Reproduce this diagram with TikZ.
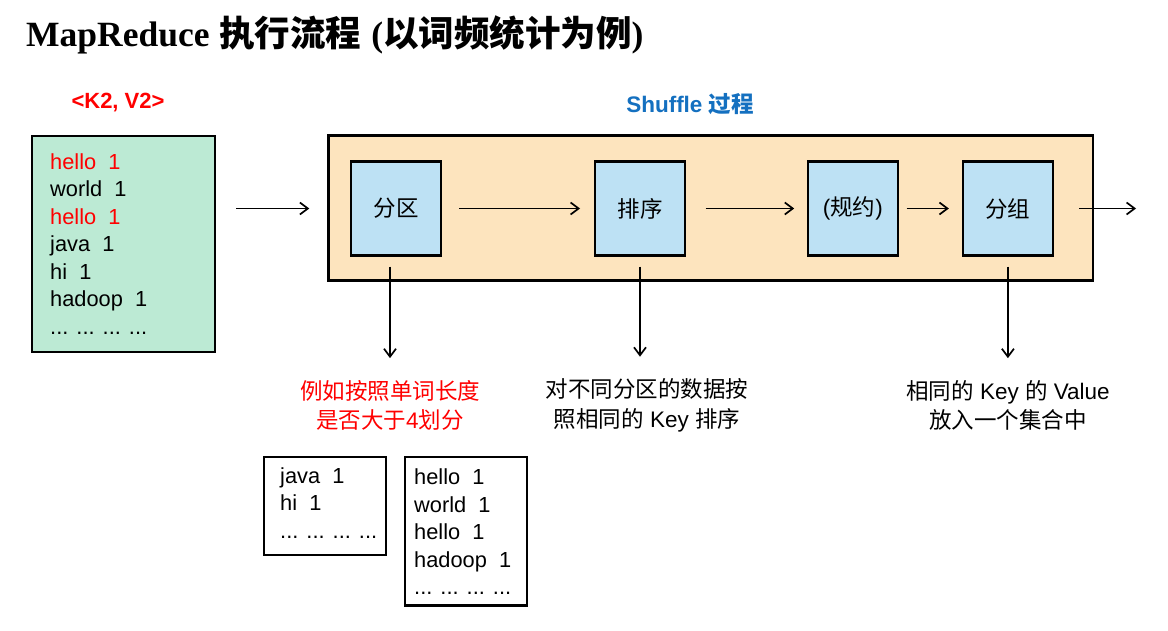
\documentclass[tikz,border=0pt]{standalone}
\usepackage{fontspec}
\setmainfont{Liberation Sans}
\newfontfamily\cjk{Noto Sans CJK SC}
\newfontfamily\tms{Liberation Serif}
\usetikzlibrary{arrows.meta}
\newcommand{\zh}[1]{{\cjk #1}}
\definecolor{mapgreen}{RGB}{188,234,212}
\definecolor{shuforange}{RGB}{253,228,190}
\definecolor{procblue}{RGB}{189,225,244}
\definecolor{shufblue}{RGB}{20,112,192}
\begin{document}
\begin{tikzpicture}[x=1pt,y=-1pt,
  frame/.style={draw=black, line width=2.4pt, inner sep=0pt, outer sep=0pt},
  procbox/.style={frame, fill=procblue, minimum width=90.2pt, minimum height=94.3pt, font=\fontsize{22.5}{27}\selectfont},
  listtext/.style={inner sep=0pt, anchor=north west, align=left, font=\fontsize{21.8}{27.5}\selectfont},
  note/.style={inner sep=0pt, align=center, font=\fontsize{22.5}{29.5}\selectfont},
  flow/.style={line width=1.7pt, -{Straight Barb[length=8pt,width=12pt]}}
]
\useasboundingbox (0,0) rectangle (1168,631);
\fill[white] (0,0) rectangle (1168,631);

% title
\node[anchor=base west, inner sep=0pt, font=\fontsize{35.5}{40}\selectfont\bfseries] (title) at (26,47)
  {{\tms MapReduce} \zh{执行流程} {\tms (}\zh{以词频统计为例}{\tms )}};

% map output
\node[font=\bfseries\fontsize{22}{26}\selectfont, text=red, inner sep=0pt] (kv) at (118,103) {<K2, V2>};
\node[frame, fill=mapgreen, minimum width=182.9pt, minimum height=215.6pt] (map) at (123.4,244) {};
\node[listtext] (maplist) at (50,153.3)
  {\textcolor{red}{hello~~1}\\world~~1\\\textcolor{red}{hello~~1}\\java~~1\\hi~~1\\hadoop~~1\\... ... ... ...};

% shuffle
\node[font=\bfseries\fontsize{22.5}{26}\selectfont, text=shufblue, inner sep=0pt] (shuflabel) at (690,104) {Shuffle \zh{过程}};
\node[frame, fill=shuforange, minimum width=764.3pt, minimum height=145pt] (shuffle) at (710.65,208) {};
\node[procbox] (p1) at (396,208.5) {\zh{分区}};
\node[procbox] (p2) at (640,208.5) {\zh{排序}};
\node[procbox] (p3) at (852.8,208.5) {(\zh{规约})};
\node[procbox] (p4) at (1007.9,208.5) {\zh{分组}};
\coordinate (out) at (1136,208.5);

% notes
\node[note, text=red] (lab1) at (390,405.5) {\zh{例如按照单词长度}\\\zh{是否大于}4\zh{划分}};
\node[note] (lab2) at (647,405.5) {\zh{对不同分区的数据按}\\\zh{照相同的} Key \zh{排序}};
\node[note] (lab3) at (1008,405.5) {\zh{相同的} Key \zh{的} Value\\\zh{放入一个集合中}};

% partitions
\node[frame, minimum width=121.9pt, minimum height=97.6pt] (part1) at (324.85,506) {};
\node[listtext] (part1list) at (280,467.5) {java~~1\\hi~~1\\... ... ... ...};
\node[frame, minimum width=121.9pt, minimum height=148.3pt] (part2) at (465.85,531.35) {};
\node[listtext] (part2list) at (414,469) {hello~~1\\world~~1\\hello~~1\\hadoop~~1\\... ... ... ...};

% connectors
\draw[flow, shorten <=21.2pt, shorten >=19.2pt] (map.east |- p1.west) -- (shuffle.west |- p1.west);
\draw[flow, shorten <=17.9pt, shorten >=14.9pt] (p1.east) -- (p2.west);
\draw[flow, shorten <=20.6pt, shorten >=13.5pt] (p2.east) -- (p3.west);
\draw[flow, shorten <=8.6pt, shorten >=13.9pt] (p3.east) -- (p4.west);
\draw[flow, shorten <=26.2pt] (p4.east) -- (out);
\draw[flow, shorten <=11pt, shorten >=22pt] (lab1.north |- p1.south) -- (lab1.north);
\draw[flow, shorten <=11pt, shorten >=22pt] (p2.south) -- (p2.south |- lab2.north);
\draw[flow, shorten <=11pt, shorten >=22pt] (p4.south) -- (p4.south |- lab3.north);
\end{tikzpicture}
\end{document}
